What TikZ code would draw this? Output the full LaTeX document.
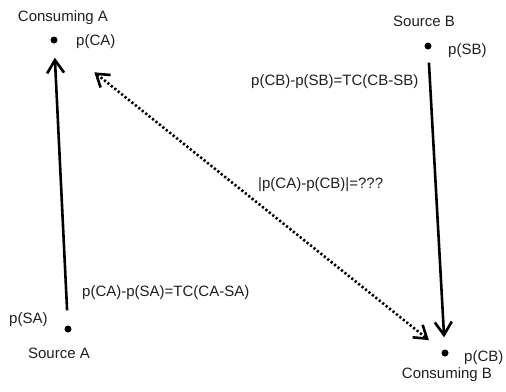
\documentclass[tikz,border=0pt]{standalone}
\usepackage{fontspec}
\setmainfont{Liberation Sans}
\usetikzlibrary{arrows.meta}
\begin{document}
\begin{tikzpicture}[x=1pt,y=-1pt,
  lbl/.style={inner sep=0pt, font=\fontsize{15}{18}\selectfont, text=black!88},
  pt/.style={circle, fill=black, inner sep=0pt, minimum size=7pt},
  barb/.style={-{Straight Barb[length=13pt,width=17pt]}, line width=2.6pt},
  dotarrow/.style={{Straight Barb[length=12pt,width=16pt]}-{Straight Barb[length=12pt,width=16pt]}, line width=2.6pt, dash pattern=on 2.2pt off 2.2pt}
]
\useasboundingbox (0,0) rectangle (506,391);
% points
\node[pt] (ca) at (54,40) {};
\node[pt] (sb) at (428,46) {};
\node[pt] (sa) at (68,329) {};
\node[pt] (cb) at (445,353) {};
% labels
\node[lbl, anchor=base] (tca) at (63,21) {Consuming A};
\node[lbl, anchor=base west] (lca) at (76,45) {p(CA)};
\node[lbl, anchor=base] (tsb) at (424,26) {Source B};
\node[lbl, anchor=base west] (lsb) at (448,54) {p(SB)};
\node[lbl, anchor=base west] (eqb) at (251,85) {p(CB)-p(SB)=TC(CB-SB)};
\node[lbl, anchor=base west] (eqq) at (258,188) {|p(CA)-p(CB)|=???};
\node[lbl, anchor=base west] (eqa) at (82,296) {p(CA)-p(SA)=TC(CA-SA)};
\node[lbl, anchor=base west] (lsa) at (9,323) {p(SA)};
\node[lbl, anchor=base] (tsa) at (59,358) {Source A};
\node[lbl, anchor=base west] (lcb) at (464,361) {p(CB)};
\node[lbl, anchor=base] (tcb) at (447,378) {Consuming B};
% connectors
\draw[barb, shorten <=15pt, shorten >=14pt] (sa) -- (ca);
\draw[barb, shorten <=13pt, shorten >=12pt] (sb) -- (cb);
\draw[dotarrow, shorten <=48pt, shorten >=17pt] (ca) -- (cb);
\end{tikzpicture}
\end{document}
